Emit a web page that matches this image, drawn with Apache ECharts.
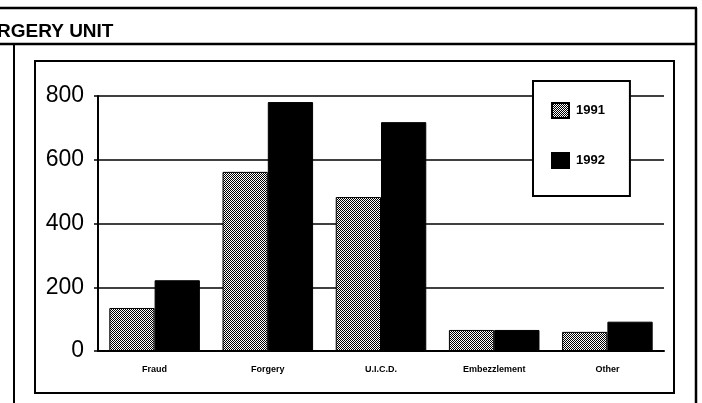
<!DOCTYPE html>
<html>
<head>
<meta charset="utf-8">
<script src="https://cdn.jsdelivr.net/npm/echarts@6/dist/echarts.min.js"></script>
<style>
    html, body { margin: 0; padding: 0; background: #fff; }
    #chart { width: 702px; height: 403px; }
</style>
</head>
<body>
<div id="chart"></div>
<script>
    // values
    const categories = ['Fraud', 'Forgery', 'U.I.C.D.', 'Embezzlement', 'Other']
    const cases1991 = [135, 562, 483, 66, 60]
    const cases1992 = [222, 781, 718, 66, 92]
    const yTicks = [0, 200, 400, 600, 800]

    // checkered grey fill like the printed 1991 bars
    function ditherPattern() {
        let c = document.createElement('canvas')
        c.width = 4
        c.height = 4
        let ctx = c.getContext('2d')
        ctx.fillStyle = '#fff'
        ctx.fillRect(0, 0, 4, 4)
        ctx.fillStyle = '#000'
        for (let y = 0; y < 4; y++) {
            for (let x = 0; x < 4; x++) {
                if ((x + y) % 2 === 0) ctx.fillRect(x, y, 1, 1)
            }
        }
        return {image: c, repeat: 'repeat'}
    }

    const font = '"Liberation Sans", Arial, sans-serif'
    let chart = echarts.init(document.getElementById('chart'))
    chart.setOption({
        animation: false,
        backgroundColor: '#fff',
        grid: {left: 98, right: 38, top: 96, bottom: 52},
        legend: {
            orient: 'vertical',
            left: 533,
            top: 81,
            padding: [21, 25, 27, 18],
            itemGap: 33,
            itemWidth: 17,
            itemHeight: 15,
            icon: 'rect',
            backgroundColor: '#fff',
            borderColor: '#000',
            borderWidth: 2,
            textStyle: {fontFamily: font, fontSize: 13, fontWeight: 'bold', color: '#000', padding: [0, 0, 0, 2]},
            data: ['1991', '1992']
        },
        xAxis: {
            type: 'category',
            data: categories,
            axisLine: {lineStyle: {color: '#000', width: 2}},
            axisTick: {length: 4, lineStyle: {color: '#000', width: 1.5}},
            axisLabel: {fontFamily: font, fontSize: 9, fontWeight: 'bold', color: '#000', margin: 14}
        },
        yAxis: {
            type: 'value',
            min: yTicks[0],
            max: yTicks[yTicks.length - 1],
            interval: 200,
            axisLine: {show: true, lineStyle: {color: '#000', width: 2}},
            axisTick: {show: true, length: 4, lineStyle: {color: '#000', width: 1.5}},
            axisLabel: {fontFamily: font, fontSize: 23, color: '#000', margin: 14},
            splitLine: {lineStyle: {color: '#000', width: 1.5}}
        },
        series: [
            {
                name: '1991',
                type: 'bar',
                data: cases1991,
                barGap: '0%',
                barCategoryGap: '20%',
                itemStyle: {color: ditherPattern(), borderColor: '#000', borderWidth: 1}
            },
            {
                name: '1992',
                type: 'bar',
                data: cases1992,
                itemStyle: {color: '#000', borderColor: '#000', borderWidth: 1}
            }
        ],
        graphic: [
            {type: 'line', shape: {x1: 0, y1: 8, x2: 697, y2: 8}, style: {stroke: '#000', lineWidth: 2.5}},
            {type: 'line', shape: {x1: 0, y1: 44, x2: 697, y2: 44}, style: {stroke: '#000', lineWidth: 2.5}},
            {type: 'line', shape: {x1: 696, y1: 8, x2: 696, y2: 403}, style: {stroke: '#000', lineWidth: 2.5}},
            {type: 'line', shape: {x1: 14, y1: 44, x2: 14, y2: 403}, style: {stroke: '#000', lineWidth: 2}},
            {type: 'rect', shape: {x: 35, y: 61, width: 639, height: 332}, style: {fill: null, stroke: '#000', lineWidth: 2}},
            {
                type: 'text', left: -3, top: 22,
                style: {text: 'RGERY UNIT', font: 'bold 19px ' + font, fill: '#000'}
            }
        ]
    })
</script>
</body>
</html>
